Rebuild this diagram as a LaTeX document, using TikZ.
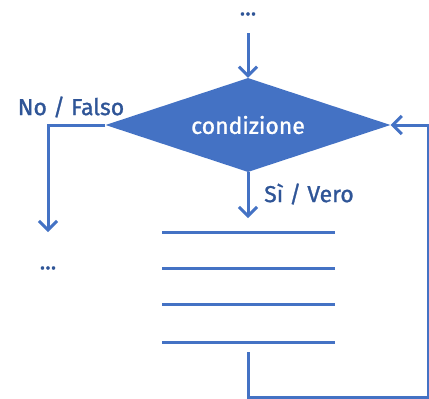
\documentclass[tikz,border=0pt]{standalone}
\usepackage{fontspec}
\setmainfont{Fira Sans}
\newfontfamily\flowfont{Fira Sans}[FakeBold=1.2]
\usepackage{tikz}
\usetikzlibrary{shapes.geometric, arrows.meta, positioning}
\definecolor{flowblue}{RGB}{68,114,196}
\definecolor{labelblue}{RGB}{47,85,151}

\begin{document}
\begin{tikzpicture}[
    x=1pt, y=-1pt,
    cond/.style={diamond, fill=flowblue, draw=none, minimum width=285pt, minimum height=94pt, aspect=3, inner sep=0pt, text=white, font=\flowfont\fontsize{23}{25}\selectfont},
    label/.style={text=labelblue, font=\flowfont\fontsize{23}{25}\selectfont, inner sep=0pt},
    arrow/.style={-{Straight Barb[length=9pt, width=18pt]}, line width=3pt, flowblue},
    instr/.style={line width=3pt, flowblue},
]
\useasboundingbox (0,0) rectangle (429,399);

\node[label] (dotstop) at (248,14) {...};
\coordinate (instart) at (248,33);
\node[cond] (cond) at (248,125) {condizione};

\node[label] (nolabel) at (71,107) {No / Falso};
\coordinate (noend) at (48,232);
\node[label] (dotsleft) at (48,268) {...};

\node[label, anchor=west] (silabel) at (264,194) {Sì / Vero};
\coordinate (siend) at (248,218);

% blocco di istruzioni
\foreach \y in {232,268,304,342}
    \draw[instr] (162,\y) -- (335,\y);

\coordinate (loopstart) at (248,352);
\coordinate (corner) at (428,397);

\draw[arrow] (instart) -- (cond.north);
\draw[arrow] (cond.west) -| (noend);
\draw[arrow] (cond.south) -- (siend);
\draw[arrow] (loopstart) |- (corner) |- (cond.east);

\end{tikzpicture}
\end{document}
